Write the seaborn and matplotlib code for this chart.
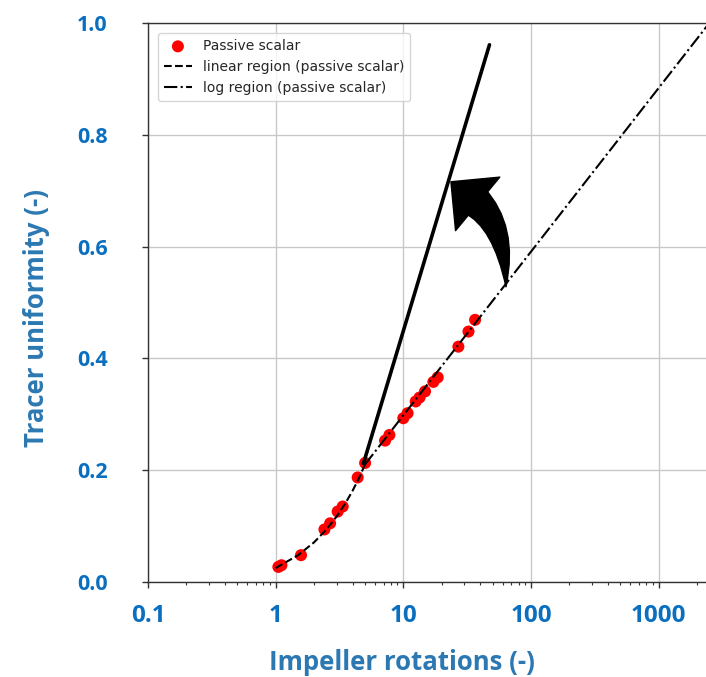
import numpy as np
import pandas as pd
import seaborn as sns
import matplotlib
matplotlib.use("Agg")
import matplotlib.pyplot as plt
from matplotlib.patches import FancyArrowPatch
import matplotlib.ticker as mticker

# ---- data ----
scalar_x = [1.05, 1.11, 1.58, 2.41, 2.67, 3.06, 3.35, 4.39, 5.02, 7.20, 7.78,
            10.0, 10.8, 12.5, 13.4, 14.8, 17.2, 18.6, 27.0, 32.4, 36.5]
scalar_y = [0.027, 0.030, 0.048, 0.094, 0.105, 0.126, 0.135, 0.187, 0.213, 0.253, 0.263,
            0.293, 0.302, 0.323, 0.330, 0.341, 0.358, 0.366, 0.421, 0.448, 0.469]

linear_x = [1.0, 1.5, 2.0, 2.5, 3.0, 3.5, 4.0, 4.5, 5.0]
linear_y = [0.025, 0.048, 0.071, 0.094, 0.117, 0.140, 0.163, 0.186, 0.210]

log_x = [5.0, 2400.0]
log_y = [0.210, 0.995]

steep_x = [4.87, 47.3]
steep_y = [0.212, 0.961]

# curved arrow (annotation) anchor points, in data units
arrow_body_start = (35.8, 0.683)
arrow_tail = (63.7, 0.528)
arrow_head_base = (42.9, 0.667)
arrow_tip = (23.6, 0.716)

x_ticks = [0.1, 1, 10, 100, 1000]
x_tick_labels = ["0.1", "1", "10", "100", "1000"]
y_ticks = [0.0, 0.2, 0.4, 0.6, 0.8, 1.0]
y_tick_labels = ["0.0", "0.2", "0.4", "0.6", "0.8", "1.0"]

sns.set_theme(style="ticks")
plt.rcParams['font.family'] = ['DejaVu Sans']

fig = plt.figure(figsize=(7.06, 6.77), dpi=100)
ax = fig.add_axes([148 / 706, (677 - 582) / 677, (706 - 148) / 706, (582 - 23) / 677])

ax.set_xscale("log")
ax.set_xlim(0.1, 2350)
ax.set_ylim(0.0, 1.0)
ax.grid(True, which="major", color="#c8c8c8", linewidth=1.0)
ax.set_axisbelow(True)

df_pts = pd.DataFrame({"x": scalar_x, "y": scalar_y})
sns.scatterplot(data=df_pts, x="x", y="y", ax=ax, color="red", s=75,
                edgecolor="none", label="Passive scalar", zorder=3)

df_lin = pd.DataFrame({"x": linear_x, "y": linear_y})
sns.lineplot(data=df_lin, x="x", y="y", ax=ax, color="black", linestyle="--",
             linewidth=1.5, label="linear region (passive scalar)", zorder=4,
             sort=False)

df_log = pd.DataFrame({"x": log_x, "y": log_y})
sns.lineplot(data=df_log, x="x", y="y", ax=ax, color="black", linestyle="-.",
             linewidth=1.5, label="log region (passive scalar)", zorder=4,
             sort=False)

df_st = pd.DataFrame({"x": steep_x, "y": steep_y})
sns.lineplot(data=df_st, x="x", y="y", ax=ax, color="black", linestyle="-",
             linewidth=2.6, zorder=5, sort=False, legend=False)

# tapered curved body (wide near head, pointed at tail)
body = FancyArrowPatch(arrow_body_start, arrow_tail,
                       arrowstyle="wedge,tail_width=1.15,shrink_factor=0.6",
                       mutation_scale=20, connectionstyle="angle3,angleA=-39,angleB=90",
                       color="black", shrinkA=0, shrinkB=0, zorder=6)
ax.add_patch(body)
# arrow head
head = FancyArrowPatch(arrow_head_base, arrow_tip,
                       arrowstyle="simple,head_length=2.5,head_width=5.0,tail_width=0.05",
                       mutation_scale=10, color="black", shrinkA=0, shrinkB=0, zorder=6)
ax.add_patch(head)

leg = ax.legend(loc="upper left", fontsize=10, frameon=True, borderpad=0.45,
                handlelength=2.0, bbox_to_anchor=(0.005, 0.995))
leg.get_frame().set_edgecolor("#cccccc")

ax.set_xticks(x_ticks)
ax.set_xticklabels(x_tick_labels)
ax.xaxis.set_minor_locator(mticker.LogLocator(base=10, subs=np.arange(2, 10)))
ax.xaxis.set_minor_formatter(mticker.NullFormatter())
ax.set_yticks(y_ticks)
ax.set_yticklabels(y_tick_labels)

tick_color = "#0b6fc0"
ax.tick_params(axis="both", which="major", length=4, width=1, color="#333333",
               labelcolor=tick_color)
ax.tick_params(axis="x", which="major", pad=12, labelsize=17.5)
ax.tick_params(axis="y", which="major", pad=25, labelsize=15.5)
ax.tick_params(axis="x", which="minor", length=2, width=0.8, color="#333333")
for lab in ax.get_xticklabels() + ax.get_yticklabels():
    lab.set_fontfamily("Open Sans")
    lab.set_fontweight("bold")

label_color = "#2c78b2"
ax.set_xlabel("Impeller rotations (-)", fontsize=18.5, fontweight="bold",
              color=label_color, family="Open Sans")
ax.set_ylabel("Tracer uniformity (-)", fontsize=18.5, fontweight="bold",
              color=label_color, family="Open Sans")
ax.xaxis.set_label_coords((402 - 148) / 558, -(649 - 582) / 559)
ax.yaxis.set_label_coords(-(148 - 50) / 558, (582 - 318) / 559)

for side in ["left", "bottom", "top"]:
    ax.spines[side].set_visible(True)
    ax.spines[side].set_color("#333333")
    ax.spines[side].set_linewidth(1.0)
ax.spines["right"].set_visible(False)

fig.savefig("out.png", dpi=100)
